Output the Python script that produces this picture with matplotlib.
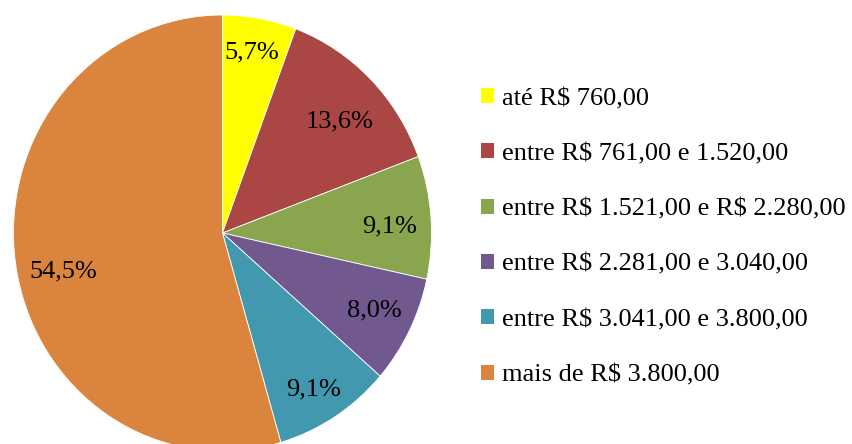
import matplotlib
matplotlib.use("Agg")
import matplotlib.pyplot as plt
from matplotlib.patches import Patch

categories = [
    "até R$ 760,00",
    "entre R$ 761,00 e 1.520,00",
    "entre R$ 1.521,00 e R$ 2.280,00",
    "entre R$ 2.281,00 e 3.040,00",
    "entre R$ 3.041,00 e 3.800,00",
    "mais de R$ 3.800,00",
]
shares = [5.7, 13.6, 9.1, 8.0, 9.1, 54.5]
colors = ["#FFFF00", "#AA4643", "#89A54E", "#71588F", "#4198AF", "#DB843D"]

# label anchor points inside the unit pie
label_pos = [(0.140, 0.828), (0.562, 0.511), (0.801, 0.032),
             (0.725, -0.353), (0.438, -0.716), (-0.763, -0.178)]

plt.rcParams["font.family"] = ["Liberation Serif", "DejaVu Serif"]
plt.rcParams["text.parse_math"] = False

W, H = 853, 444
fig = plt.figure(figsize=(W / 100, H / 100), dpi=100)

cx, cy, rx, ry = 222.5, 233.0, 209.0, 218.0
ax = fig.add_axes([(cx - rx) / W, (H - cy - ry) / H, 2 * rx / W, 2 * ry / H])
ax.pie(shares, colors=colors, startangle=90, counterclock=False, radius=1,
       wedgeprops=dict(edgecolor="white", linewidth=0.6))
ax.set_aspect("auto")
ax.set_xlim(-1, 1)
ax.set_ylim(-1, 1)
ax.axis("off")

for v, (x, y) in zip(shares, label_pos):
    ax.text(x, y, f"{v:.1f}%".replace(".", ","), ha="center", va="center",
            fontsize=19, color="black")

handles = [Patch(facecolor=c, edgecolor="none") for c in colors]
fig.legend(handles, categories, loc="upper left",
           bbox_to_anchor=(481 / W, 1 - 88 / H), frameon=False,
           fontsize=19, handlelength=0.5, handleheight=0.5,
           handletextpad=0.3, labelspacing=1.26, borderpad=0, borderaxespad=0)

fig.savefig("out.png", dpi=100)
